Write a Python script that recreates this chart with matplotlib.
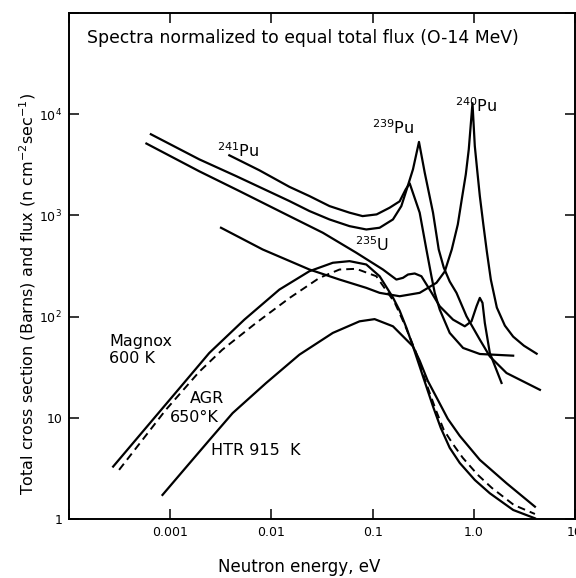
import matplotlib
matplotlib.use('Agg')
import matplotlib.pyplot as plt
import numpy as np

# cross sections (barns), energy in eV
pu241_e = [0.003837, 0.007603, 0.01507, 0.02377, 0.03751, 0.05916, 0.07962, 0.1096,
           0.1473, 0.1850, 0.2123, 0.2324, 0.2919, 0.3401, 0.3813, 0.4111, 0.4606,
           0.5781, 0.7837, 1.147, 2.449]
pu241_v = [3926, 2792, 1915, 1552, 1236, 1064, 984, 1023,
           1191, 1377, 1807, 2075, 1064, 460.6, 250.6, 171.7, 117.3,
           69.0, 49.0, 42.7, 41.1]

pu239_e = [0.000644, 0.001936, 0.004470, 0.01507, 0.02377, 0.03751, 0.05916, 0.08661,
           0.1173, 0.1589, 0.1923, 0.2172, 0.2506, 0.2873, 0.3273, 0.3954, 0.4501,
           0.5047, 0.5781, 0.6745, 0.8472, 1.147, 1.440, 2.106, 4.501]
pu239_v = [6339, 3581, 2449, 1386, 1104, 912, 783, 726,
           755, 912, 1236, 1807, 2852, 5321, 2649, 1064, 460.6,
           305.5, 222.1, 171.7, 100.7, 59.2, 40.4, 27.7, 18.9]

u235_e = [0.000582, 0.001936, 0.004820, 0.01507, 0.03222, 0.06902, 0.1265, 0.1718,
          0.1995, 0.2239, 0.2606, 0.3034, 0.3666, 0.4606, 0.6237, 0.8147, 0.9484,
          1.064, 1.147, 1.219, 1.285, 1.440, 1.880]
u235_v = [5129, 2729, 1741, 984, 674, 427.6, 291.9, 232.3,
          241.5, 260.6, 266.7, 250.6, 184.9, 126.5, 93.3, 80.2, 89.8,
          126.5, 153.1, 136.7, 86.6, 43.7, 22.1]

pu240_e = [0.003177, 0.008199, 0.02377, 0.04710, 0.08661, 0.1173, 0.1850, 0.2919,
           0.4275, 0.5164, 0.6058, 0.6950, 0.7603, 0.8337, 0.8920, 0.9705,
           1.023, 1.083, 1.147, 1.242, 1.345, 1.473, 1.689, 2.027, 2.449, 3.126, 4.178]
pu240_v = [755, 460.6, 291.9, 232.3, 192.3, 171.7, 158.9, 171.7,
           215.8, 279.0, 460.6, 814.7, 1439, 2547, 4500, 12850,
           4853, 2729, 1552, 814.7, 440.4, 232.3, 122.8, 81.5, 63.4, 51.6, 43.0]

# neutron flux spectra (n cm^-2 sec^-1)
magnox_e = [0.000273, 0.0004236, 0.000668, 0.001227, 0.002432, 0.005404, 0.01199, 0.02377,
            0.04046, 0.05916, 0.08661, 0.1173, 0.1589, 0.1850, 0.2157, 0.2506, 0.3148,
            0.3954, 0.4713, 0.5781, 0.7263, 1.023, 1.440, 2.449, 4.018]
magnox_v = [3.296, 5.54, 9.49, 19.45, 43.7, 93.3, 184.9, 281.0,
            340.4, 353.2, 327.3, 250.6, 154.2, 114.6, 77.8, 50.8, 25.6,
            12.94, 7.96, 5.05, 3.58, 2.43, 1.796, 1.228, 1.016]

agr_e = [0.0003126, 0.000532, 0.000906, 0.001936, 0.003276, 0.007063, 0.01507, 0.02985,
         0.04710, 0.06902, 0.1088, 0.1652, 0.2075, 0.2667, 0.3350, 0.4207, 0.5047,
         0.6194, 0.7785, 1.095, 1.507, 2.489, 4.018]
agr_v = [3.057, 6.05, 12.0, 28.5, 47.1, 86.6, 152.5, 241.5,
         291.9, 296.6, 250.6, 137.7, 83.4, 45.0, 22.7, 12.0, 7.61,
         5.53, 4.02, 2.73, 2.03, 1.376, 1.121]

htr_e = [0.000839, 0.001429, 0.002432, 0.004140, 0.008868, 0.01893, 0.04046, 0.07430,
         0.1047, 0.1589, 0.2506, 0.2919, 0.3508, 0.4406, 0.5531, 0.7263, 1.147, 2.106, 4.018]
htr_v = [1.729, 3.228, 6.01, 11.13, 22.07, 42.1, 69.0, 89.8,
         94.4, 80.2, 50.8, 36.7, 23.2, 15.07, 9.77, 6.63, 3.84, 2.256, 1.324]

x_ticks = [1e-4, 1e-3, 1e-2, 1e-1, 1, 10]
x_labels = ['', '0.001', '0.01', '0.1', '1.0', '10']
y_ticks = [1, 10, 100, 1000, 1e4, 1e5]
y_labels = ['1', '10', '$10^2$', '$10^3$', '$10^4$', '']

fig = plt.figure(figsize=(5.76, 5.78), dpi=100)
ax = fig.add_axes([69/576, 59/578, 506/576, 506/578])

lw = 1.6
for e, v in [(pu241_e, pu241_v), (pu239_e, pu239_v), (u235_e, u235_v),
             (pu240_e, pu240_v), (magnox_e, magnox_v), (htr_e, htr_v)]:
    ax.plot(e, v, color='black', lw=lw, solid_joinstyle='round')
ax.plot(agr_e, agr_v, color='black', lw=1.4, linestyle=(0, (4, 2.6)))

ax.set_xscale('log')
ax.set_yscale('log')
ax.set_xlim(1e-4, 10)
ax.set_ylim(1, 1e5)
ax.set_xticks(x_ticks)
ax.set_xticklabels(x_labels)
ax.set_yticks(y_ticks)
ax.set_yticklabels(y_labels)
ax.minorticks_off()
ax.tick_params(direction='in', length=7, width=1.1, top=True, right=True,
               labelsize=9, pad=5)
for s in ax.spines.values():
    s.set_linewidth(1.4)

# labels on the curves
fs = 11.5
ax.text(0.0356, 0.9506, 'Spectra normalized to equal total flux (O-14 MeV)',
        transform=ax.transAxes, fontsize=12.4, va='center', ha='left')
ax.text(2.92e-3, 3751, '$^{241}$Pu', fontsize=fs, va='baseline')
ax.text(0.0993, 6339, '$^{239}$Pu', fontsize=fs, va='baseline')
ax.text(0.6486, 10470, '$^{240}$Pu', fontsize=fs, va='baseline')
ax.text(0.0664, 443, '$^{235}$U', fontsize=fs, va='baseline')
ax.text(2.49e-4, 56.5, 'Magnox', fontsize=fs, va='center')
ax.text(2.49e-4, 38.4, '600 K', fontsize=fs, va='center')
ax.text(1.578e-3, 15.4, 'AGR', fontsize=fs, va='center')
ax.text(9.93e-4, 10.1, '650°K', fontsize=fs, va='center')
ax.text(2.53e-3, 4.71, 'HTR 915  K', fontsize=fs, va='center')

fig.text(28/576, 1 - 294/578,
         'Total cross section (Barns) and flux (n cm$^{-2}$sec$^{-1}$)',
         rotation=90, fontsize=11.5, ha='center', va='center')
fig.text(299/576, 1 - 572/578, 'Neutron energy, eV', fontsize=12,
         ha='center', va='baseline')

fig.savefig('out.png', dpi=100)
